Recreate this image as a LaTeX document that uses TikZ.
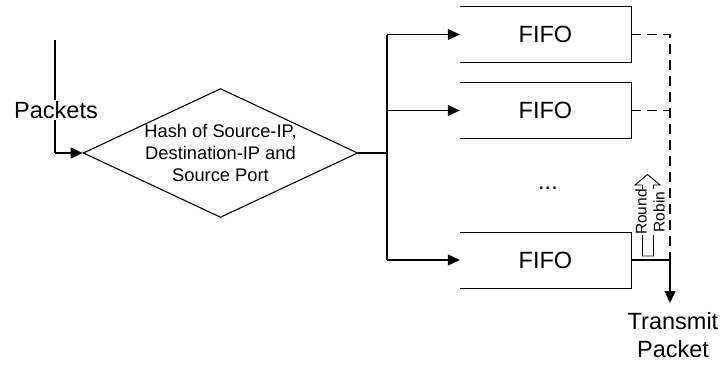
\documentclass[tikz,border=0pt]{standalone}
\usepackage{fontspec}
\setmainfont{Liberation Sans}
\usetikzlibrary{shapes.geometric,arrows.meta}
\tikzset{
  ln/.style={line width=1.1pt},
  arr/.style={ln,-{Triangle[length=12pt,width=11pt]}},
  dsh/.style={line width=1.1pt,dash pattern=on 10pt off 6pt},
  big/.style={font=\fontsize{23.5}{28.5}\selectfont},
  fifo/.style={big,inner sep=0,minimum width=171pt,minimum height=56pt},
}
\begin{document}
\begin{tikzpicture}[x=1pt,y=-1pt]
\useasboundingbox (0,0) rectangle (721,367);
% input
\coordinate (in0) at (55,40);
\coordinate (in1) at (55,153);
\node[diamond,draw,ln,inner sep=0,aspect=2.13,minimum width=269pt,minimum height=126pt,
  align=center,font=\fontsize{18.3}{22}\selectfont] (hash) at (220.5,153)
  {Hash of Source-IP,\\Destination-IP and\\Source Port};
\draw[ln] (in0) -- (in1);
\draw[arr] (in1) -- (hash.west);
\node[big,fill=white,inner sep=1pt] (pk) at (56,110) {Packets};
% fan out
\coordinate (sp) at (387,153);
\coordinate (s1) at (387,34.5);
\coordinate (s2) at (387,110.5);
\coordinate (s3) at (387,260);
\node[fifo] (f1) at (545.5,34.5) {FIFO};
\node[fifo] (f2) at (545.5,110.5) {FIFO};
\node[fifo] (f3) at (545.5,260.5) {FIFO};
\node[big] (dots) at (548,188) {...};
\draw[ln] (f1.north west) -- (f1.north east) -- (f1.south east) -- (f1.south west);
\draw[ln] (f2.north west) -- (f2.north east) -- (f2.south east) -- (f2.south west);
\draw[ln] (f3.north west) -- (f3.north east) -- (f3.south east) -- (f3.south west);
\draw[ln] (hash.east) -- (sp);
\draw[ln] (s1) -- (s3);
\draw[arr] (s1) -- (f1.west);
\draw[arr] (s2) -- (f2.west);
\draw[arr] (s3) -- (s3 -| f3.west);
% output
\coordinate (d1) at (670,34.5);
\coordinate (d2) at (670,110.5);
\coordinate (o3) at (670,260);
\draw[dsh] (f1.east) -- (d1) -- (o3);
\draw[dsh] (f2.east) -- (d2);
\node[big,align=center,inner sep=0,anchor=north] (tx) at (673,312) {Transmit\\Packet};
\draw[ln] (o3 -| f3.east) -- (o3);
\draw[arr,shorten >=9pt] (o3) -- (o3 |- tx.north);
% round robin block arrow
\draw[line width=0.9pt] (642.5,256) -- (642.5,185) -- (635,185) -- (647.5,174.5) -- (660,185) -- (653.5,185) -- (653.5,256) -- cycle;
\node[rotate=90,fill=white,inner sep=0.5pt,align=center,
  font=\fontsize{15.5}{18}\selectfont] (rr) at (650,212) {Round\\Robin};
\end{tikzpicture}
\end{document}
